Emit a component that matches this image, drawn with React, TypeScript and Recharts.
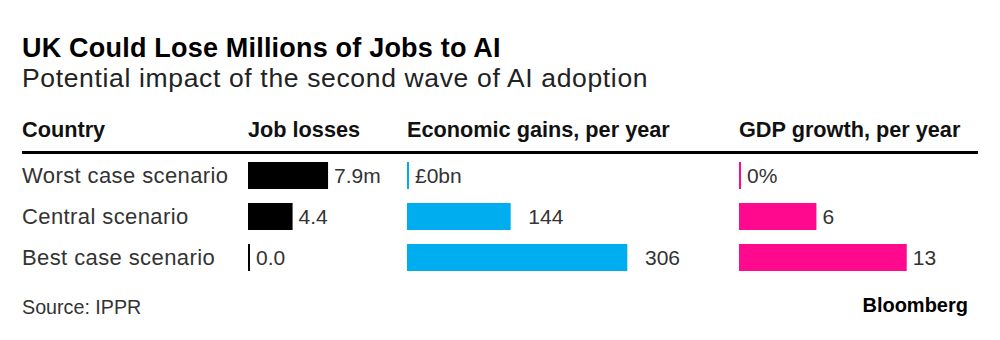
import { BarChart, Bar, XAxis, YAxis, LabelList } from 'recharts';

const scenarios = ['Worst case scenario', 'Central scenario', 'Best case scenario'];
const jobLosses = [7.9, 4.4, 0.0];
const economicGains = [0, 144, 306];
const gdpGrowth = [0, 6, 13];
const jobLabels = ['7.9m', '4.4', '0.0'];
const gainLabels = ['£0bn', '144', '306'];
const gdpLabels = ['0%', '6', '13'];
const headers = ['Country', 'Job losses', 'Economic gains, per year', 'GDP growth, per year'];

const data = scenarios.map((name, i) => ({
  name,
  jobs: jobLosses[i],
  gains: economicGains[i],
  gdp: gdpGrowth[i],
}));

const FONT = '"Liberation Sans", Arial, Helvetica, sans-serif';
const TEXT = '#333';
const CHART_TOP = 155;
const CHART_H = 123;

// Bloomberg pads the unit-less labels with an invisible prefix so they line up
function makeLabel(labels: string[], hiddenPrefix?: string) {
  return (props: any) => {
    const { x, y, width, height, index } = props;
    const w = Math.max(Number(width) || 0, 2);
    const tx = Number(x) + w + 6;
    const ty = Number(y) + Number(height) / 2;
    const hide = hiddenPrefix && index > 0;
    return (
      <text x={tx} y={ty} dy="0.35em" fontSize={21} fontFamily={FONT} fill={TEXT}>
        {hide ? <tspan fill="transparent">{hiddenPrefix}</tspan> : null}
        <tspan>{labels[index]}</tspan>
      </text>
    );
  };
}

const MinBar = (props: any) => {
  const { x, y, width, height, fill } = props;
  return <rect x={x} y={y} width={Math.max(Number(width) || 0, 2)} height={height} fill={fill} />;
};

const RowTick = (props: any) => {
  const { y, payload } = props;
  return (
    <text x={22} y={y} dy="0.35em" fontSize={22} letterSpacing={0.4} fontFamily={FONT} fill={TEXT} textAnchor="start">
      {payload.value}
    </text>
  );
};

export default function App() {
  return (
    <div style={{ position: 'absolute', left: 0, top: 0, width: 1000, height: 340, background: '#fff', fontFamily: FONT }}>
      <svg width={1000} height={340} style={{ position: 'absolute', left: 0, top: 0 }}>
        <text x={22} y={57} fontSize={27} fontWeight={700} letterSpacing={0.2} fill="#000">UK Could Lose Millions of Jobs to AI</text>
        <text x={22} y={87} fontSize={26.5} letterSpacing={0.65} fill="#222">Potential impact of the second wave of AI adoption</text>
        {[22, 248, 407, 739].map((hx, i) => (
          <text key={headers[i]} x={hx} y={137} fontSize={21.7} fontWeight={700} fill="#111">{headers[i]}</text>
        ))}
        <rect x={22} y={151} width={956} height={3} fill="#000" />
        <text x={22} y={314} fontSize={19.7} fill={TEXT}>Source: IPPR</text>
        <text x={968} y={312} fontSize={20} fontWeight={700} fill="#000" textAnchor="end">Bloomberg</text>
      </svg>

      <div style={{ position: 'absolute', left: 0, top: CHART_TOP }}>
        <BarChart width={400} height={CHART_H} data={data} layout="vertical" margin={{ top: 0, right: 0, bottom: 0, left: 0 }}>
          <XAxis type="number" hide domain={[0, 15]} />
          <YAxis type="category" dataKey="name" width={248} axisLine={false} tickLine={false} tick={<RowTick />} />
          <Bar dataKey="jobs" fill="#000" barSize={27} shape={<MinBar />} isAnimationActive={false}>
            <LabelList dataKey="jobs" content={makeLabel(jobLabels)} />
          </Bar>
        </BarChart>
      </div>

      <div style={{ position: 'absolute', left: 407, top: CHART_TOP }}>
        <BarChart width={288} height={CHART_H} data={data} layout="vertical" margin={{ top: 0, right: 0, bottom: 0, left: 0 }}>
          <XAxis type="number" hide domain={[0, 400]} />
          <YAxis type="category" dataKey="name" hide />
          <Bar dataKey="gains" fill="#00adef" barSize={27} shape={<MinBar />} isAnimationActive={false}>
            <LabelList dataKey="gains" content={makeLabel(gainLabels, '£')} />
          </Bar>
        </BarChart>
      </div>

      <div style={{ position: 'absolute', left: 739, top: CHART_TOP }}>
        <BarChart width={240} height={CHART_H} data={data} layout="vertical" margin={{ top: 0, right: 0, bottom: 0, left: 0 }}>
          <XAxis type="number" hide domain={[0, 18.6]} />
          <YAxis type="category" dataKey="name" hide />
          <Bar dataKey="gdp" fill="#ff0a8f" barSize={27} shape={<MinBar />} isAnimationActive={false}>
            <LabelList dataKey="gdp" content={makeLabel(gdpLabels)} />
          </Bar>
        </BarChart>
      </div>
    </div>
  );
}
